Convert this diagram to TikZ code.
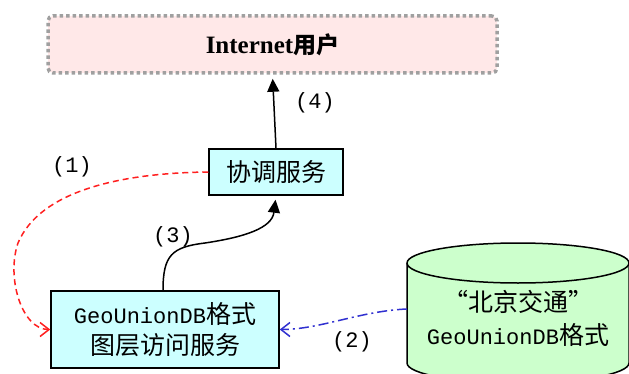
\documentclass[tikz,border=0pt]{standalone}
\usepackage{fontspec}
\setmainfont{Liberation Serif}
\newfontfamily\cjk{Noto Sans CJK SC}
\newfontfamily\mono{Liberation Mono}
\usetikzlibrary{arrows.meta}
\definecolor{boxcyan}{HTML}{CCFFFF}
\definecolor{cylgreen}{HTML}{CCFFCC}
\definecolor{userpink}{HTML}{FFE8E8}
\definecolor{dotgray}{HTML}{A0A0A0}
\definecolor{linkred}{HTML}{FF2020}
\definecolor{linkblue}{HTML}{3030D0}
\begin{document}
\begin{tikzpicture}[x=1pt,y=1pt,
  userbox/.style={draw=dotgray, line width=3.5pt, dash pattern=on 3.5pt off 3pt, rounded corners=5pt,
    fill=userpink, minimum width=449pt, minimum height=57pt, inner sep=0pt},
  svcbox/.style={draw=black, line width=1.5pt, fill=boxcyan, inner sep=0pt, align=center},
  cjktext/.style={font=\cjk\fontsize{25}{31}\selectfont},
  lbl/.style={font=\mono\fontsize{22}{24}\selectfont, inner sep=0pt},
  conn/.style={line width=1.5pt},
  tri/.style={-{Triangle[length=13pt,width=12pt]}, shorten >=4pt},
  barb/.style={-{Straight Barb[length=9pt,width=14pt]}},
]
\useasboundingbox (0,0) rectangle (629,373);
\fill[white] (0,0) rectangle (629,373);

% Internet users
\node[userbox] (user) at (272.5,328.5)
  {{\fontsize{25}{28}\selectfont\bfseries Internet}{\cjk\bfseries\fontsize{23}{28}\selectfont 用户}};

% coordination service
\node[svcbox, cjktext, minimum width=134pt, minimum height=46pt] (coord) at (276,201) {协调服务};

% layer access service
\node[svcbox, cjktext, minimum width=228pt, minimum height=77pt] (geo) at (165,43.5)
  {{\mono\fontsize{22}{31}\selectfont GeoUnionDB}格式\\图层访问服务};

% cylinder
\path[draw=black, line width=1.5pt, fill=cylgreen] (407,110) -- (407,10)
  arc[start angle=180,end angle=360,x radius=111,y radius=20] -- (629,110)
  arc[start angle=0,end angle=180,x radius=111,y radius=20] -- cycle;
\draw[line width=1.5pt] (407,110) arc[start angle=180,end angle=360,x radius=111,y radius=20];
\node[cjktext, align=center, inner sep=0pt, font=\cjk\fontsize{25}{33}\selectfont] (db) at (518,55)
  {“北京交通”\\{\mono\fontsize{22}{33}\selectfont GeoUnionDB}格式};
\coordinate (dbleft) at (407,64);

% (4)
\draw[conn, tri] (coord.north) -- (user.south);
\node[lbl] (l4) at (315,270) {(4)};

% (3)
\draw[conn, tri]
  (geo.north -| 163,0) .. controls (163,118) and (172,126) .. (205,130)
  .. controls (245,136) and (272,145) .. (coord.south);
\node[lbl] (l3) at (173,136) {(3)};

% (1)
\draw[conn, linkred, dash pattern=on 6pt off 4pt, barb]
  (coord.west) .. controls (120,200) and (40,182) .. (18,130)
  .. controls (6,95) and (22,43.5) .. (geo.west);
\node[lbl] (l1) at (72,206) {(1)};

% (2)
\draw[conn, linkblue, dash pattern=on 10pt off 4pt on 2pt off 4pt, barb]
  (dbleft) .. controls (360,62) and (320,43.5) .. (geo.east);
\node[lbl] (l2) at (352,31) {(2)};
\end{tikzpicture}
\end{document}
